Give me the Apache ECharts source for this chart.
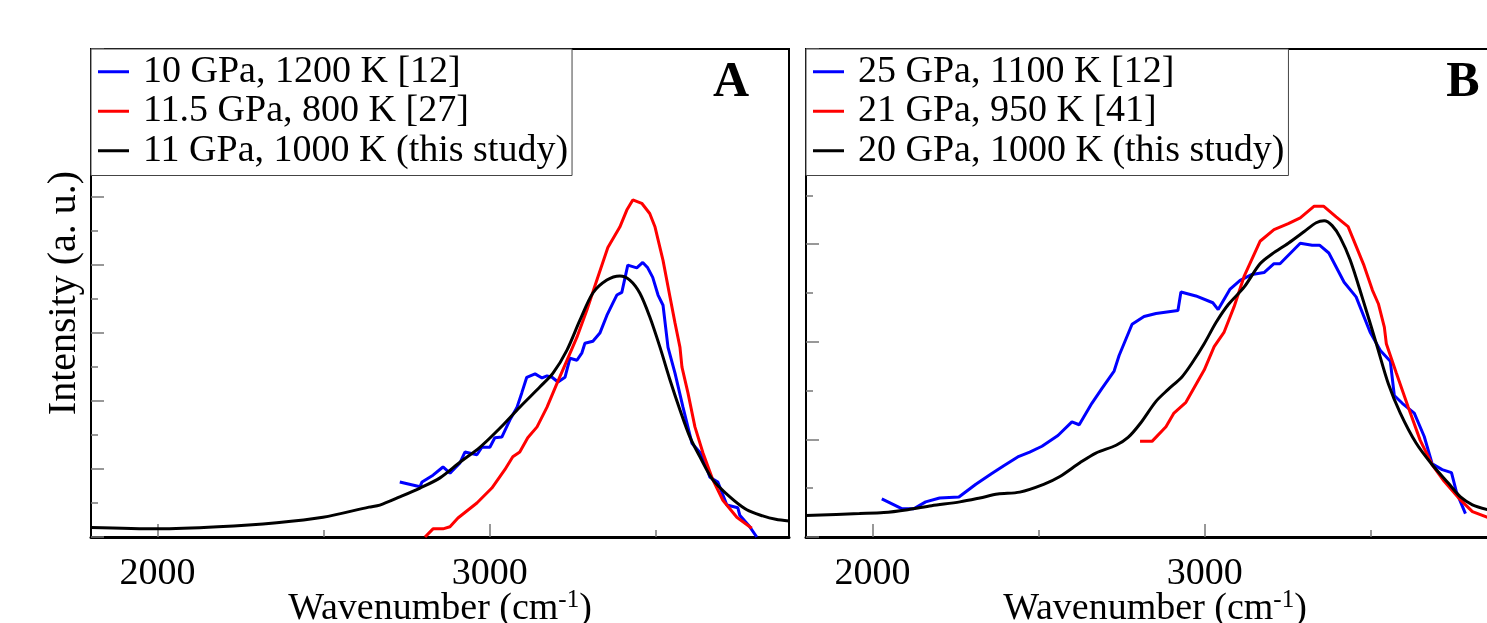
<!DOCTYPE html>
<html>
<head>
<meta charset="utf-8">
<script src="https://cdn.jsdelivr.net/npm/echarts@6/dist/echarts.min.js"></script>
<style>
html,body{margin:0;padding:0;background:#fff}
#main{width:1487px;height:623px}
</style>
</head>
<body>
<div id="main"></div>
<script>
// ---- data ----
var xMin = 1800, xMax = 3900;
var xMajor = [2000, 3000];
var xMinor = [2500, 3500];

var namesA = ['10 GPa, 1200 K [12]', '11.5 GPa, 800 K [27]', '11 GPa, 1000 K (this study)'];
var namesB = ['25 GPa, 1100 K [12]', '21 GPa, 950 K [41]', '20 GPa, 1000 K (this study)'];
var colors = ['#0000ff', '#ff0000', '#000000'];

// panel A
var blueA = [[2729,0.81],[2790,0.74],[2796,0.81],[2829,0.91],[2859,1.03],[2880,0.94],[2910,1.09],[2925,1.25],[2961,1.21],[2976,1.32],[3000,1.32],[3015,1.46],[3036,1.47],[3060,1.72],[3081,1.90],[3096,2.12],[3111,2.35],[3136,2.40],[3157,2.34],[3172,2.37],[3187,2.35],[3205,2.28],[3226,2.35],[3241,2.63],[3262,2.60],[3277,2.71],[3286,2.85],[3310,2.88],[3331,3.00],[3352,3.26],[3370,3.44],[3382,3.56],[3397,3.60],[3415,4.00],[3442,3.96],[3460,4.04],[3475,3.96],[3490,3.82],[3506,3.56],[3521,3.41],[3536,2.79],[3557,2.41],[3581,1.91],[3608,1.38],[3638,1.21],[3662,0.88],[3686,0.81],[3713,0.47],[3746,0.43],[3752,0.32],[3782,0.15],[3803,0.0]];
var redA = [[2805,0.0],[2829,0.12],[2859,0.12],[2880,0.15],[2904,0.28],[2961,0.50],[3006,0.72],[3045,0.99],[3069,1.18],[3090,1.25],[3114,1.46],[3142,1.62],[3172,1.91],[3202,2.26],[3232,2.60],[3262,2.94],[3292,3.34],[3322,3.78],[3355,4.26],[3391,4.56],[3412,4.81],[3430,4.96],[3457,4.91],[3481,4.76],[3497,4.56],[3521,4.07],[3542,3.53],[3557,3.15],[3572,2.79],[3578,2.50],[3596,2.12],[3617,1.62],[3641,1.24],[3671,0.84],[3701,0.54],[3743,0.29],[3788,0.13]];
var blackA = [[1800,0.14],[2002,0.12],[2182,0.15],[2359,0.21],[2498,0.29],[2636,0.44],[2669,0.47],[2729,0.59],[2790,0.72],[2850,0.87],[2910,1.10],[2970,1.32],[3030,1.60],[3090,1.91],[3151,2.21],[3190,2.41],[3232,2.75],[3271,3.19],[3310,3.59],[3352,3.78],[3391,3.84],[3421,3.78],[3451,3.59],[3481,3.24],[3512,2.79],[3542,2.31],[3572,1.87],[3602,1.47],[3632,1.18],[3671,0.84],[3722,0.59],[3773,0.40],[3821,0.31],[3860,0.26],[3900,0.235]];

// panel B
var blueB = [[2028,0.39],[2088,0.29],[2124,0.29],[2160,0.36],[2202,0.40],[2260,0.41],[2311,0.54],[2359,0.65],[2395,0.73],[2437,0.82],[2473,0.87],[2510,0.93],[2558,1.04],[2600,1.18],[2622,1.15],[2660,1.37],[2690,1.52],[2727,1.70],[2742,1.86],[2781,2.18],[2817,2.26],[2853,2.29],[2919,2.32],[2928,2.51],[2973,2.47],[3024,2.40],[3040,2.33],[3076,2.54],[3106,2.63],[3142,2.69],[3178,2.71],[3208,2.80],[3226,2.80],[3287,3.01],[3323,2.99],[3345,2.99],[3373,2.91],[3419,2.61],[3455,2.46],[3497,2.10],[3528,1.91],[3558,1.80],[3570,1.45],[3594,1.37],[3630,1.27],[3660,1.03],[3684,0.75],[3714,0.69],[3742,0.66],[3757,0.46],[3784,0.24]];
var redB = [[2805,0.98],[2841,0.98],[2883,1.13],[2907,1.27],[2943,1.38],[2986,1.64],[2998,1.71],[3028,1.95],[3058,2.10],[3088,2.36],[3118,2.67],[3166,3.03],[3208,3.15],[3251,3.21],[3287,3.27],[3329,3.39],[3357,3.39],[3395,3.28],[3431,3.18],[3479,2.78],[3504,2.53],[3522,2.39],[3540,2.15],[3546,1.98],[3576,1.68],[3612,1.33],[3648,0.99],[3684,0.74],[3720,0.57],[3769,0.38],[3805,0.26],[3851,0.20]];
var blackB = [[1800,0.22],[1961,0.24],[2034,0.25],[2106,0.28],[2178,0.32],[2263,0.36],[2323,0.40],[2377,0.44],[2443,0.46],[2515,0.54],[2564,0.62],[2624,0.76],[2672,0.86],[2733,0.94],[2769,1.02],[2805,1.16],[2853,1.39],[2889,1.51],[2931,1.64],[2961,1.78],[2998,1.98],[3034,2.20],[3070,2.38],[3118,2.56],[3166,2.80],[3202,2.90],[3251,3.01],[3299,3.13],[3335,3.22],[3359,3.24],[3383,3.19],[3407,3.07],[3437,2.84],[3473,2.46],[3516,1.98],[3552,1.57],[3588,1.27],[3636,0.96],[3684,0.74],[3733,0.55],[3769,0.41],[3805,0.33],[3851,0.28]];

var yMaxA = 7.18, yMaxB = 5;

// ---- chart ----
var serif = '"Liberation Serif", "DejaVu Serif", serif';
var tickColor = '#777';
var chart = echarts.init(document.getElementById('main'));

function xAxes(gi) {
  return [{
    type: 'value', gridIndex: gi, min: xMin, max: xMax, position: 'bottom',
    axisLine: {onZero: false, lineStyle: {color: '#000', width: 3}},
    axisTick: {inside: true, length: 13, customValues: xMajor, lineStyle: {color: tickColor, width: 1.5}},
    axisLabel: {customValues: xMajor, margin: 18, fontSize: 38, fontFamily: serif, color: '#000',
      formatter: function (v) { return String(v); }},
    splitLine: {show: false},
    name: '{a|Wavenumber (cm}{s|-1}{a|)}',
    nameLocation: 'middle', nameGap: 51, nameMoveOverlap: false,
    nameTextStyle: {
      rich: {
        a: {fontSize: 38, fontFamily: serif, color: '#000', lineHeight: 40, verticalAlign: 'bottom'},
        s: {fontSize: 25, fontFamily: serif, color: '#000', lineHeight: 15, verticalAlign: 'top', padding: [0, 0, 48, 0]}
      }
    }
  }, {
    type: 'value', gridIndex: gi, min: xMin, max: xMax, position: 'bottom',
    axisLine: {show: false},
    axisTick: {inside: true, length: 7, customValues: xMinor, lineStyle: {color: tickColor, width: 1.5}},
    axisLabel: {show: false},
    splitLine: {show: false}
  }];
}

function yAxis(gi, max, name) {
  return {
    type: 'value', gridIndex: gi, min: 0, max: max, interval: 1,
    axisLine: {onZero: false, lineStyle: {color: '#000', width: 2}},
    axisTick: {inside: true, length: 13, lineStyle: {color: tickColor, width: 1.5}},
    minorTick: {show: true, splitNumber: 2, length: 7, lineStyle: {color: tickColor, width: 1.5}},
    axisLabel: {show: false},
    splitLine: {show: false},
    name: name, nameLocation: 'middle', nameGap: 7, nameMoveOverlap: false,
    nameTextStyle: {fontSize: 40, fontFamily: serif, color: '#000'}
  };
}

function legend(left, names) {
  return {
    orient: 'vertical', left: left, top: 49,
    padding: [3, 4, 5, 7], itemGap: 0,
    itemWidth: 31, itemHeight: 3, icon: 'rect',
    backgroundColor: '#fff', borderColor: '#444', borderWidth: 1,
    selectedMode: false,
    textStyle: {fontSize: 38, fontFamily: serif, color: '#000', lineHeight: 39.5, padding: [0, 0, 0, 9]},
    data: names
  };
}

function line(name, data, color, xi, yi, smooth) {
  return {
    type: 'line', name: name, data: data, xAxisIndex: xi, yAxisIndex: yi,
    showSymbol: false, smooth: smooth ? 0.3 : false,
    lineStyle: {color: color, width: 3}, itemStyle: {color: color},
    clip: true
  };
}

var xa = xAxes(0), xb = xAxes(1);

chart.setOption({
  animation: false,
  backgroundColor: '#fff',
  grid: [
    {left: 91, top: 49, width: 698, height: 488, show: true, borderColor: '#000', borderWidth: 2, outerBoundsMode: 'none', containLabel: false},
    {left: 806, top: 49, width: 698, height: 488, show: true, borderColor: '#000', borderWidth: 2, outerBoundsMode: 'none', containLabel: false}
  ],
  xAxis: [xa[0], xa[1], xb[0], xb[1]],
  yAxis: [yAxis(0, yMaxA, 'Intensity (a. u.)'), yAxis(1, yMaxB, '')],
  legend: [legend(91, namesA), legend(806, namesB)],
  series: [
    line(namesA[0], blueA, colors[0], 0, 0, false),
    line(namesA[1], redA, colors[1], 0, 0, false),
    line(namesA[2], blackA, colors[2], 0, 0, true),
    line(namesB[0], blueB, colors[0], 2, 1, false),
    line(namesB[1], redB, colors[1], 2, 1, false),
    line(namesB[2], blackB, colors[2], 2, 1, true)
  ],
  graphic: [
    {type: 'text', x: 731, y: 83, style: {text: 'A', fontSize: 50, fontWeight: 'bold', fontFamily: serif, fill: '#000', textAlign: 'center', textVerticalAlign: 'middle'}},
    {type: 'text', x: 1463, y: 83, style: {text: 'B', fontSize: 50, fontWeight: 'bold', fontFamily: serif, fill: '#000', textAlign: 'center', textVerticalAlign: 'middle'}}
  ]
});
</script>
</body>
</html>
